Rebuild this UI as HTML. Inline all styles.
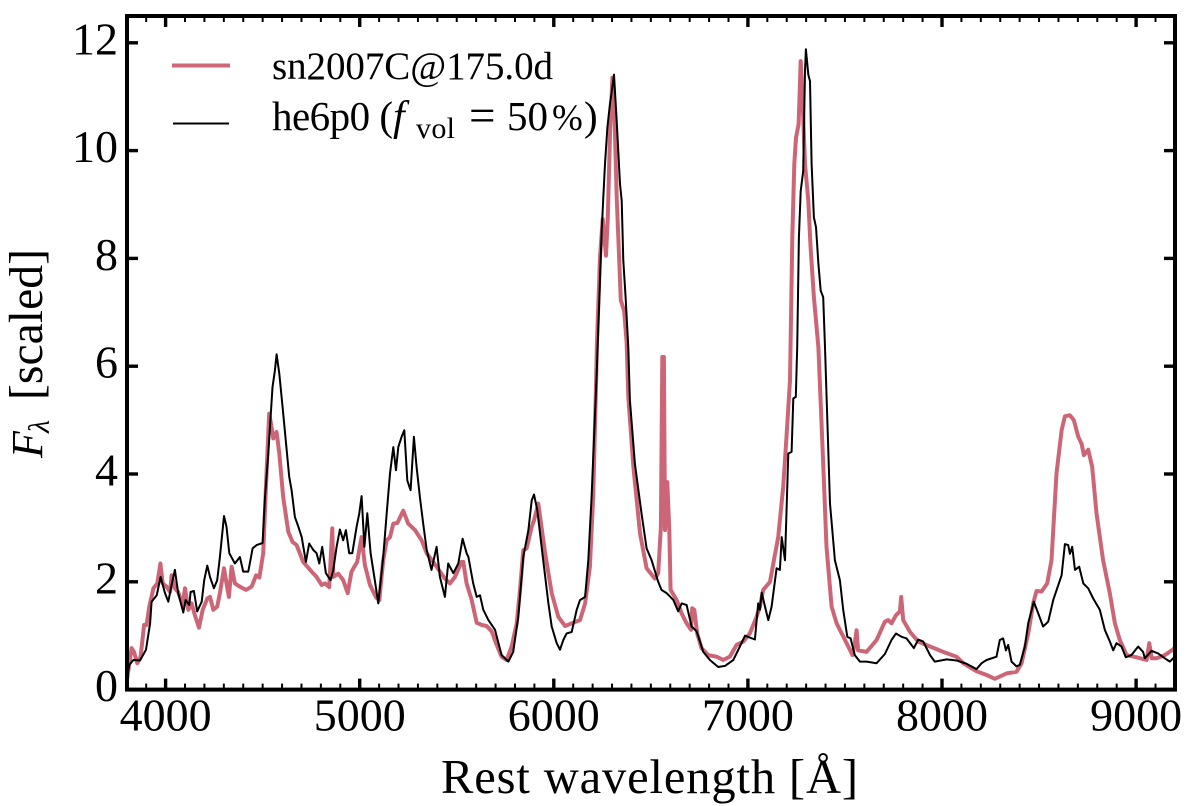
<!DOCTYPE html>
<html lang="en">
<head>
<meta charset="utf-8">
<title>Spectrum comparison</title>
<style>
html,body{margin:0;padding:0;background:#fff;}
svg{display:block;font-family:"Liberation Serif",serif;fill:#000;}
</style>
</head>
<body>
<svg id="chart" width="1200" height="806" viewBox="0 0 1200 806" xmlns="http://www.w3.org/2000/svg">
<defs><clipPath id="plot-clip"><rect x="127" y="16" width="1048" height="674"></rect></clipPath></defs>
<g id="series" clip-path="url(#plot-clip)"></g>
<g id="ticks"></g>
<rect x="127" y="16" width="1048" height="673.6" fill="none" stroke="#000" stroke-width="4"></rect>
<g id="tick-labels" font-size="46"></g>
<text x="441" y="793" font-size="48.5" textLength="417" lengthAdjust="spacing">Rest wavelength [Å]</text>
<g transform="translate(42,458) rotate(-90)" font-size="47.7">
<text x="0" y="0" font-size="44" font-style="italic">F</text>
<text x="25" y="7" font-size="30" font-style="italic">λ</text>
<text x="58" y="0" textLength="151" lengthAdjust="spacing">[scaled]</text>
</g>
<g>
<line x1="172" y1="65.5" x2="230" y2="65.5" stroke="#cc6677" stroke-width="4"></line>
<text x="272" y="79" font-size="39" textLength="281" lengthAdjust="spacing">sn2007C@175.0d</text>
<line x1="173" y1="123.5" x2="229" y2="123.5" stroke="#000" stroke-width="2"></line>
<g font-size="39">
<text x="272" y="130" font-size="41" textLength="121" lengthAdjust="spacing">he6p0 (</text>
<text x="393" y="130" font-size="42" font-style="italic">f</text>
<text x="416" y="138" font-size="30" textLength="39" lengthAdjust="spacing">vol</text>
<text x="469" y="131" font-size="47">=</text>
<text x="507" y="130" font-size="41" textLength="41" lengthAdjust="spacing">50</text>
<text x="552" y="130" font-size="37" textLength="31" lengthAdjust="spacing">%</text>
<text x="584" y="130" font-size="41">)</text>
</g>
</g>
</svg>
<script>
const redWave=[3800,3803,3825,3837,3854,3871,3889,3902,3916,3937,3957,3973,3985,4005,4023,4031,4048,4065,4088,4100,4117,4134,4151,4172,4191,4215,4229,4246,4266,4280,4301,4314,4326,4340,4357,4383,4414,4443,4466,4483,4503,4520,4534,4546,4555,4572,4586,4606,4632,4654,4675,4709,4752,4778,4804,4821,4843,4859,4864,4890,4915,4938,4958,4987,5010,5027,5053,5084,5101,5121,5139,5156,5173,5194,5224,5250,5285,5319,5345,5396,5439,5465,5491,5525,5534,5551,5577,5603,5628,5654,5680,5706,5731,5757,5783,5809,5826,5843,5860,5886,5898,5920,5955,5989,6023,6058,6092,6135,6161,6186,6203,6218,6222,6238,6252,6269,6278,6290,6302,6312,6324,6338,6345,6362,6375,6384,6410,6444,6478,6521,6538,6552,6559,6567,6573,6585,6595,6602,6633,6659,6684,6707,6713,6724,6739,6761,6796,6839,6873,6907,6942,6976,7010,7045,7062,7079,7114,7131,7156,7182,7199,7217,7229,7239,7248,7261,7272,7280,7294,7311,7323,7340,7363,7388,7405,7431,7457,7500,7539,7551,7560,7568,7611,7663,7706,7723,7740,7763,7783,7790,7800,7835,7878,7938,8006,8075,8109,8178,8230,8272,8333,8384,8410,8444,8470,8487,8513,8542,8564,8590,8616,8633,8659,8679,8702,8719,8731,8753,8774,8796,8830,8865,8891,8916,8951,9002,9054,9068,9080,9105,9148,9191,9200];
const redFlux=[0.18,0.23,0.77,0.70,0.49,0.61,1.20,1.20,1.54,1.88,1.97,2.34,1.97,1.91,1.81,2.12,1.88,1.81,1.57,1.88,1.48,1.60,1.38,1.15,1.48,1.69,1.72,1.48,1.54,1.79,2.25,1.97,1.72,2.28,1.97,1.91,1.85,1.91,2.12,2.08,2.53,4.01,5.12,4.87,4.66,4.78,4.38,3.57,2.93,2.74,2.68,2.37,2.19,2.09,1.94,1.97,1.90,2.99,2.09,2.15,2.03,1.79,2.19,2.37,2.83,2.31,1.94,1.71,1.66,2.40,2.77,2.83,3.08,3.09,3.32,3.08,2.96,2.77,2.53,2.28,2.06,1.97,2.09,2.37,2.37,1.97,1.66,1.24,1.20,1.18,1.08,0.83,0.61,0.55,0.80,1.23,1.85,2.59,2.62,3.02,3.14,3.45,2.53,1.79,1.35,1.18,1.23,1.29,1.60,2.28,3.58,5.70,6.40,8.02,8.73,8.05,8.76,10.37,11.35,10.73,9.13,7.89,7.22,7.03,6.45,5.43,4.13,2.90,2.25,2.06,2.16,3.02,6.17,6.17,2.96,3.85,2.96,1.85,1.66,1.41,1.23,1.11,1.51,1.48,1.04,0.77,0.64,0.61,0.55,0.61,0.83,0.89,1.04,1.35,1.54,1.85,2.00,2.34,2.83,3.76,4.69,5.74,8.39,9.75,10.24,10.49,11.66,11.11,9.75,9.07,8.20,7.28,6.35,4.19,2.65,1.54,1.23,0.92,0.64,0.86,1.10,0.73,0.70,0.92,1.26,1.29,1.23,1.38,1.45,1.72,1.29,1.07,0.89,0.80,0.70,0.61,0.49,0.34,0.27,0.20,0.30,0.33,0.49,1.04,1.60,1.83,1.82,1.97,2.40,4.01,4.81,5.07,5.09,5.00,4.69,4.56,4.35,4.45,4.13,3.27,2.40,1.78,1.23,0.92,0.64,0.60,0.55,0.86,0.58,0.58,0.64,0.75,0.78];
const modelWave=[3800,3813,3834,3868,3899,3920,3928,3954,3974,3997,4014,4031,4048,4065,4091,4103,4122,4129,4146,4163,4186,4199,4215,4229,4249,4266,4280,4301,4314,4328,4357,4383,4400,4426,4448,4469,4500,4512,4529,4551,4563,4572,4586,4603,4624,4637,4649,4666,4684,4701,4723,4740,4761,4778,4792,4807,4826,4850,4864,4881,4898,4915,4929,4946,4962,4984,4998,5010,5024,5039,5056,5078,5096,5121,5139,5156,5173,5187,5199,5216,5230,5245,5262,5279,5293,5310,5327,5345,5370,5396,5413,5439,5456,5482,5508,5530,5551,5560,5585,5603,5620,5637,5663,5697,5731,5766,5791,5817,5843,5869,5886,5898,5915,5937,5972,5989,6015,6032,6049,6066,6092,6118,6135,6161,6178,6195,6221,6247,6255,6264,6276,6290,6298,6310,6324,6341,6350,6358,6370,6384,6392,6418,6452,6478,6504,6538,6555,6581,6616,6641,6659,6684,6710,6736,6770,6804,6847,6882,6925,6959,6985,7036,7053,7062,7071,7088,7105,7122,7148,7165,7174,7191,7208,7225,7234,7247,7254,7263,7272,7285,7294,7299,7311,7320,7328,7340,7351,7363,7375,7388,7397,7423,7448,7474,7491,7512,7529,7551,7577,7611,7663,7706,7740,7763,7792,7817,7855,7878,7903,7938,7963,8024,8075,8126,8178,8204,8230,8281,8298,8315,8329,8341,8358,8384,8401,8427,8444,8473,8496,8521,8547,8573,8616,8633,8650,8659,8671,8685,8707,8728,8753,8779,8813,8839,8865,8882,8899,8925,8947,8976,9011,9036,9045,9080,9114,9148,9174,9191,9200];
const modelFlux=[0.18,0.46,0.55,0.54,0.74,1.23,1.63,1.75,2.09,1.79,1.63,1.94,2.22,1.79,1.43,1.66,1.57,1.81,1.83,1.45,1.63,2.03,2.30,2.09,1.88,2.03,2.46,3.22,3.02,2.53,2.34,2.46,2.19,2.19,2.62,2.68,2.72,3.57,4.38,5.61,5.92,6.22,5.86,5.24,4.44,3.95,3.70,3.20,3.02,2.83,2.37,2.71,2.59,2.53,2.34,2.65,2.16,2.03,2.22,2.65,2.97,2.77,2.96,2.53,2.53,3.02,3.27,3.59,2.65,3.27,2.53,2.03,1.60,2.46,3.27,4.01,4.50,4.07,4.50,4.69,4.81,3.88,3.70,4.69,4.13,3.57,3.08,2.59,2.22,2.65,2.09,1.72,2.34,2.16,2.34,2.80,2.53,2.46,1.97,1.72,1.75,1.48,1.29,1.11,0.64,0.52,0.70,1.35,2.46,2.96,3.51,3.62,3.33,2.65,1.60,1.17,0.86,0.74,0.92,1.04,1.07,1.48,1.66,1.72,2.40,3.58,5.86,8.51,9.13,9.75,10.43,10.89,11.07,11.41,10.55,9.38,9.07,7.96,7.28,6.35,5.37,4.19,3.27,2.62,2.40,2.00,1.85,1.79,1.66,1.45,1.60,1.57,1.17,1.08,0.70,0.55,0.42,0.44,0.55,0.80,1.00,0.93,1.60,1.48,1.80,1.54,1.29,1.54,2.25,2.22,2.83,2.40,4.38,4.41,5.40,5.43,6.35,8.39,9.25,9.62,11.48,11.88,11.41,11.29,9.75,8.76,8.58,7.90,7.40,7.28,6.35,3.45,2.40,2.03,1.48,0.98,0.95,0.64,0.52,0.52,0.49,0.66,0.92,1.04,0.98,0.95,0.77,0.93,0.89,0.64,0.52,0.56,0.54,0.48,0.38,0.49,0.55,0.61,0.92,0.95,0.73,0.83,0.52,0.43,0.46,0.80,1.23,1.63,1.41,1.17,1.26,1.66,2.12,2.70,2.68,2.52,2.65,2.22,2.28,1.97,1.88,1.69,1.48,1.11,0.89,0.73,0.86,0.80,0.60,0.64,0.80,0.70,0.58,0.72,0.67,0.58,0.52,0.58,0.62];
const xTickLabels=[4000,5000,6000,7000,8000,9000];
const yTickLabels=[0,2,4,6,8,10,12];
const xMinorStep=100;
const xDomain=[3800,9200];

const NS='http://www.w3.org/2000/svg';
const xScale=v=>165.6+(v-4000)*0.1941;
const yScale=v=>689.6-v*53.9;

function pathFrom(xs,ys){
  let d='';
  for(let i=0;i<xs.length;i++){
    d+=(i?'L':'M')+xScale(xs[i]).toFixed(1)+' '+yScale(ys[i]).toFixed(1);
  }
  return d;
}
const seriesG=document.getElementById('series');
const ticksG=document.getElementById('ticks');
const labelsG=document.getElementById('tick-labels');

const redPath=document.createElementNS(NS,'path');


redPath.setAttribute('d',pathFrom(redWave,redFlux));
redPath.setAttribute('fill','none');
redPath.setAttribute('stroke','#cc6677');
redPath.setAttribute('stroke-width','4');
redPath.setAttribute('stroke-linejoin','round');
seriesG.appendChild(redPath);

const modelPath=document.createElementNS(NS,'path');


modelPath.setAttribute('d',pathFrom(modelWave,modelFlux));
modelPath.setAttribute('fill','none');
modelPath.setAttribute('stroke','#000');
modelPath.setAttribute('stroke-width','2');
modelPath.setAttribute('stroke-linejoin','round');
seriesG.appendChild(modelPath);

function addTick(x1,y1,x2,y2,w){
  const t=document.createElementNS(NS,'line');
  
  
  t.setAttribute('x1',x1);
  t.setAttribute('y1',y1);
  t.setAttribute('x2',x2);
  t.setAttribute('y2',y2);
  t.setAttribute('stroke','#000');
  t.setAttribute('stroke-width',w);
  ticksG.appendChild(t);
}
for(let v=xDomain[0]+xMinorStep;v<xDomain[1];v+=xMinorStep){
  const major=xTickLabels.indexOf(v)>=0;
  const len=major?11:6;
  const w=major?3.4:2;
  const x=xScale(v);
  addTick(x,689.6,x,689.6-len,w);
  addTick(x,16,x,16+len,w);
}
yTickLabels.forEach(v=>{
  const y=yScale(v);
  addTick(127,y,138,y,3.4);
  addTick(1175,y,1164,y,3.4);
});
xTickLabels.forEach(v=>{
  const t=document.createElementNS(NS,'text');
  
  
  t.setAttribute('x',xScale(v));
  t.setAttribute('y',730.5);
  t.setAttribute('text-anchor','middle');
  t.textContent=v;
  labelsG.appendChild(t);
});
yTickLabels.forEach(v=>{
  const t=document.createElementNS(NS,'text');
  
  
  t.setAttribute('x',118);
  t.setAttribute('y',yScale(v)+11.5);
  t.setAttribute('text-anchor','end');
  t.textContent=v;
  labelsG.appendChild(t);
});
</script>
</body>
</html>
